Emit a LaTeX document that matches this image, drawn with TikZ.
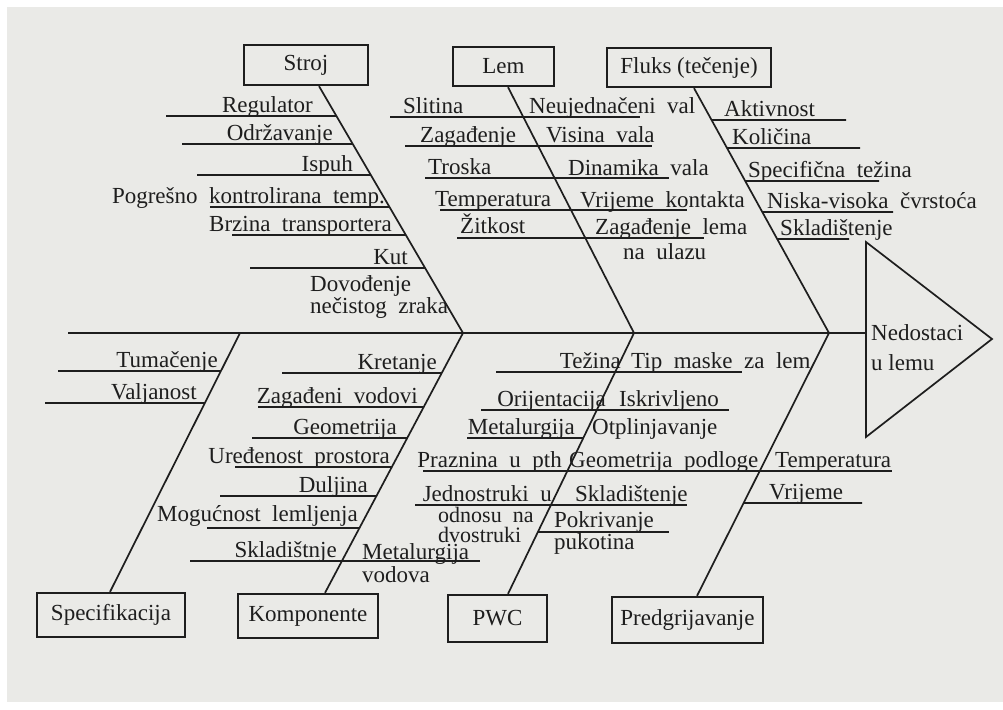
\documentclass[tikz,border=0pt]{standalone}
\usepackage{fontspec}
\setmainfont{Liberation Serif}
\usetikzlibrary{calc}
\definecolor{ink}{RGB}{30,30,30}
\definecolor{paper}{RGB}{234,234,231}
\tikzset{
  ln/.style={draw=ink, line width=1.7pt},
  bx/.style={draw=ink, line width=2.3pt, inner sep=0pt, font=\fontsize{23}{26}\selectfont, text=ink},
  lab/.style={inner sep=0pt, font=\fontsize{23}{26}\selectfont, text=ink},
  le/.style={lab, anchor=base east},
  lw/.style={lab, anchor=base west},
  sm/.style={font=\fontsize{22}{25}\selectfont},
}
\newcommand\ribto[4]{\draw[ln] (#3,#4) -- (intersection of #1--#2 and 0,#4--1000,#4);}
\newcommand\ribfrom[4]{\draw[ln] (intersection of #1--#2 and 0,#4--1000,#4) -- (#3,#4);}
\begin{document}
\begin{tikzpicture}[x=1pt,y=-1pt]
\useasboundingbox (0,0) rectangle (1003,709);
\fill[white] (0,0) rectangle (1003,709);
\fill[paper] (7,7) rectangle (1003,702);

% category boxes
\node[bx, minimum width=124pt, minimum height=40pt] (stroj) at (306,65) {Stroj};
\node[bx, minimum width=101pt, minimum height=39pt] (lem) at (503.5,66.5) {Lem};
\node[bx, minimum width=164pt, minimum height=39pt] (fluks) at (689,67.5) {Fluks (tečenje)};
\node[bx, minimum width=148pt, minimum height=44pt] (spec) at (111,615) {Specifikacija};
\node[bx, minimum width=140pt, minimum height=44pt] (komp) at (308,616) {Komponente};
\node[bx, minimum width=99pt, minimum height=47pt] (pwc) at (497.5,618.5) {PWC};
\node[bx, minimum width=151pt, minimum height=46pt] (pred) at (687.5,620) {Predgrijavanje};

% spine and head
\coordinate (tail) at (68,333);
\coordinate (head) at (866,333);
\coordinate (J1) at (240,333);
\coordinate (J2) at (463,333);
\coordinate (J3) at (634,333);
\coordinate (J4) at (829,333);
\draw[ln] (tail) -- (head);
\coordinate (hT) at (866,242);
\coordinate (hP) at (992,339);
\coordinate (hB) at (866,437);
\draw[ln, line join=miter] (hT) -- (hP) -- (hB) -- cycle;
\node[lw] (eff1) at (871,340) {Nedostaci};
\node[lw] (eff2) at (871,370) {u lemu};

% bones
\coordinate (StT) at ([xshift=13pt]stroj.south);
\coordinate (LeT) at ([xshift=4.5pt]lem.south);
\coordinate (FlT) at ([xshift=5pt]fluks.south);
\coordinate (SpB) at ([xshift=-1pt]spec.north);
\coordinate (KoB) at ([xshift=17pt]komp.north);
\coordinate (PwB) at ([xshift=10.5pt]pwc.north);
\coordinate (PrB) at ([xshift=9.5pt]pred.north);
\draw[ln] (StT) -- (J2);
\draw[ln] (LeT) -- (J3);
\draw[ln] (FlT) -- (J4);
\draw[ln] (SpB) -- (J1);
\draw[ln] (KoB) -- (J2);
\draw[ln] (PwB) -- (J3);
\draw[ln] (PrB) -- (J4);

% Stroj ribs
\ribto{StT}{J2}{166}{116}
\ribto{StT}{J2}{182}{144}
\ribto{StT}{J2}{197}{175}
\ribto{StT}{J2}{210}{207}
\ribto{StT}{J2}{232}{235}
\ribto{StT}{J2}{250}{268}
\node[le] (s1) at (313,112) {Regulator};
\node[le] (s2) at (333,140) {Održavanje};
\node[le] (s3) at (353,171) {Ispuh};
\node[le] (s4) at (385,203) {Pogrešno\ \ kontrolirana\ \ temp.};
\node[le] (s5) at (392,231) {Brzina\ \ transportera};
\node[le] (s6) at (408,264) {Kut};
\node[lw] (s7a) at (310,291) {Dovođenje};
\node[lw] (s7b) at (310,313) {nečistog\ \ zraka};

% Lem ribs (crossing the bone)
\draw[ln] (390,117) -- (640,117);
\draw[ln] (405,146) -- (652,146);
\draw[ln] (425,178) -- (669,178);
\draw[ln] (440,210) -- (687,210);
\draw[ln] (457,238) -- (704,238);
\node[lw] (l1) at (403,113) {Slitina};
\node[lw] (l2) at (420,142) {Zagađenje};
\node[lw] (l3) at (428,174) {Troska};
\node[lw] (l4) at (435,206) {Temperatura};
\node[lw] (l5) at (460,233) {Žitkost};
\node[lw] (l6) at (529,113) {Neujednačeni\ \ val};
\node[lw] (l7) at (546,142) {Visina\ \ vala};
\node[lw] (l8) at (568,175) {Dinamika\ \ vala};
\node[lw] (l9) at (580,207) {Vrijeme\ \ kontakta};
\node[lw] (l10a) at (595,234) {Zagađenje\ \ lema};
\node[lw] (l10b) at (623,259) {na\ \ ulazu};

% Fluks ribs
\ribfrom{FlT}{J4}{846}{120}
\ribfrom{FlT}{J4}{860}{148}
\ribfrom{FlT}{J4}{879}{181}
\ribfrom{FlT}{J4}{893}{212}
\ribfrom{FlT}{J4}{849}{239}
\node[lw] (f1) at (724,116) {Aktivnost};
\node[lw] (f2) at (732,144) {Količina};
\node[lw] (f3) at (748,177) {Specifična\ \ težina};
\node[lw] (f4) at (767,208) {Niska-visoka\ \ čvrstoća};
\node[lw] (f5) at (780,235) {Skladištenje};

% Specifikacija ribs
\ribto{SpB}{J1}{58}{371}
\ribto{SpB}{J1}{45}{403}
\node[le] (p1) at (218,367) {Tumačenje};
\node[le] (p2) at (197,399) {Valjanost};

% Komponente ribs
\ribto{KoB}{J2}{282}{373}
\ribto{KoB}{J2}{258}{407}
\ribto{KoB}{J2}{252}{438}
\ribto{KoB}{J2}{235}{467}
\ribto{KoB}{J2}{220}{496}
\ribto{KoB}{J2}{207}{528}
\draw[ln] (190,561) -- (480,561);
\node[le] (k1) at (437,369) {Kretanje};
\node[le] (k2) at (418,403) {Zagađeni\ \ vodovi};
\node[le] (k3) at (397,434) {Geometrija};
\node[le] (k4) at (390,463) {Uređenost\ \ prostora};
\node[le] (k5) at (368,492) {Duljina};
\node[le] (k6) at (358,521) {Mogućnost\ \ lemljenja};
\node[le] (k7) at (337,557) {Skladištnje};
\node[lw] (k8a) at (362,559) {Metalurgija};
\node[lw] (k8b) at (362,582) {vodova};

% PWC ribs
\draw[ln] (496,372) -- (742,372);
\draw[ln] (481,410) -- (729,410);
\ribto{PwB}{J3}{467}{438}
\draw[ln] (423,471) -- (892,471);
\draw[ln] (415,505) -- (687,505);
\ribfrom{PwB}{J3}{669}{532}
\node[le] (w1) at (621,368) {Težina};
\node[le] (w2) at (606,406) {Orijentacija};
\node[le] (w3) at (575,434) {Metalurgija};
\node[le] (w4) at (562,467) {Praznina\ \ u\ \ pth};
\node[le] (w5) at (552,501) {Jednostruki\ \ u};
\node[lw, sm] (w5b) at (438,522) {odnosu\ \ na};
\node[lw, sm] (w5c) at (438,542) {dvostruki};
\node[lw] (w6) at (631,368) {Tip\ \ maske\ \ za\ \ lem};
\node[lw] (w7) at (619,406) {Iskrivljeno};
\node[lw] (w8) at (592,434) {Otplinjavanje};
\node[lw] (w9) at (569,467) {Geometrija\ \ podloge};
\node[lw] (w10) at (575,501) {Skladištenje};
\node[lw] (w11a) at (554,527) {Pokrivanje};
\node[lw] (w11b) at (554,549) {pukotina};

% Predgrijavanje ribs
\ribfrom{PrB}{J4}{862}{503}
\node[lw] (r1) at (775,467) {Temperatura};
\node[lw] (r2) at (769,499) {Vrijeme};
\end{tikzpicture}
\end{document}
